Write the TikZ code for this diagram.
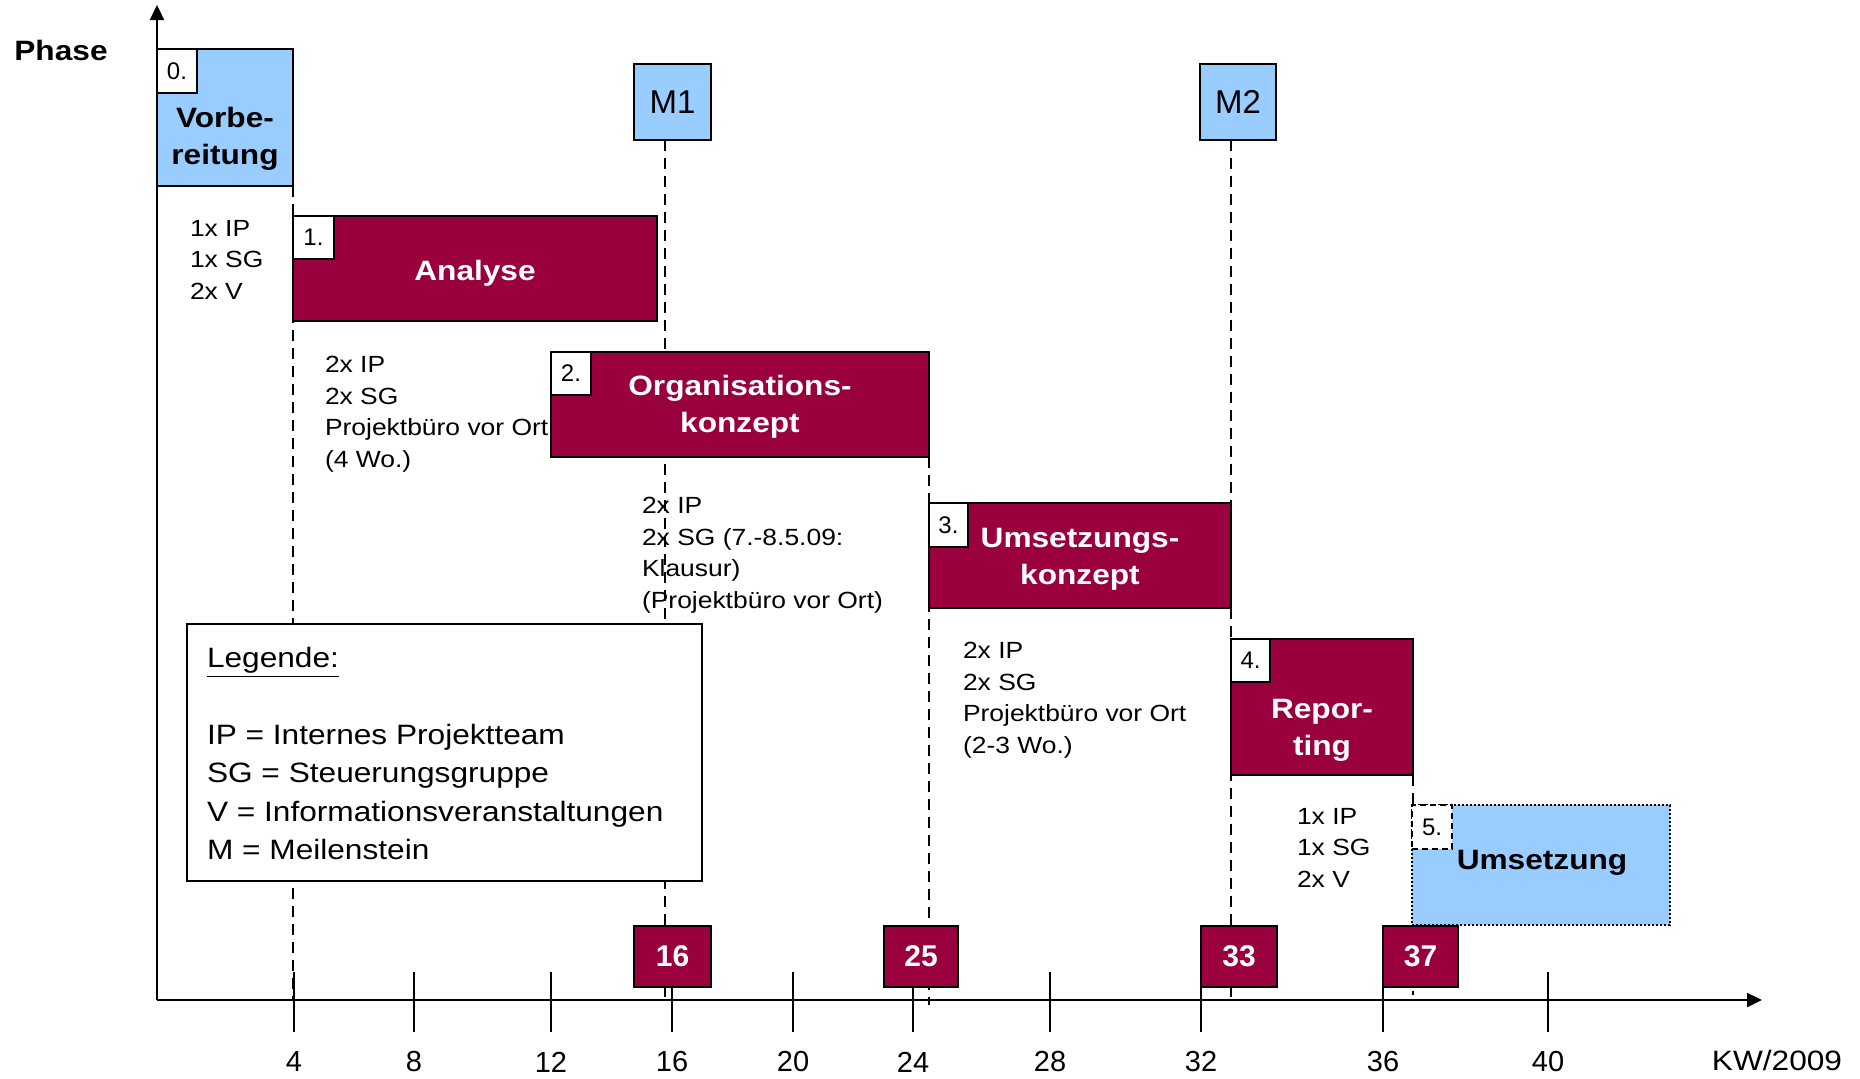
\documentclass[tikz,border=0pt]{standalone}
\usepackage{fontspec}
\setmainfont[FakeStretch=1.13]{Liberation Sans}
\newfontfamily\nfont{Liberation Sans}
\usetikzlibrary{arrows.meta,fit,backgrounds}
\definecolor{burg}{RGB}{153,0,61}
\definecolor{lblue}{RGB}{153,204,255}
\begin{document}
\begin{tikzpicture}[x=0.5pt,y=-0.5pt,
  every node/.style={inner sep=0pt,outer sep=0pt},
  axis/.style={line width=1.2pt,-{Triangle[length=7.5pt,width=7pt]}},
  tickline/.style={line width=1pt},
  guide/.style={line width=1pt,dash pattern=on 5.5pt off 3.5pt},
  redbox/.style={draw=black,line width=1.3pt,fill=burg},
  bluebox/.style={draw=black,line width=1.3pt,fill=lblue},
  numbox/.style={draw=black,line width=1.3pt,fill=white},
  numtxt/.style={font=\nfont\fontsize{12}{14}\selectfont},
  title/.style={align=center,font=\bfseries\fontsize{14}{18.5}\selectfont},
  small/.style={align=left,anchor=north west,font=\fontsize{11.7}{15.9}\selectfont},
  ticklbl/.style={font=\nfont\fontsize{14.5}{16}\selectfont},
  mstxt/.style={text=white,font=\nfont\bfseries\fontsize{15}{17}\selectfont},
  mtxt/.style={font=\nfont\fontsize{16.5}{18}\selectfont}
]
\useasboundingbox (0,0) rectangle (1860,1078);

% phases
\node[bluebox,fit={(157,49)(293,186)}] (p0) {};
\node[numbox,fit={(157,49)(197,93)}] (n0) {};
\node[numtxt] (n0t) at (n0.center) {0.};
\node[title] (t0) at (225,139) {Vorbe-\\reitung};

\node[redbox,fit={(293,216)(657,321)}] (p1) {};
\node[numbox,fit={(293,216)(334,259)}] (n1) {};
\node[numtxt] (n1t) at (n1.center) {1.};
\node[title,text=white] (t1) at (475,273) {Analyse};

\node[redbox,fit={(551,352)(929,457)}] (p2) {};
\node[numbox,fit={(551,352)(591,395)}] (n2) {};
\node[numtxt] (n2t) at (n2.center) {2.};
\node[title,text=white] (t2) at (740,407) {Organisations-\\konzept};

\node[redbox,fit={(929,503)(1231,608)}] (p3) {};
\node[numbox,fit={(929,503)(968,547)}] (n3) {};
\node[numtxt] (n3t) at (n3.center) {3.};
\node[title,text=white] (t3) at (1080,559) {Umsetzungs-\\konzept};

\node[redbox,fit={(1231,639)(1413,775)}] (p4) {};
\node[numbox,fit={(1231,639)(1270,682)}] (n4) {};
\node[numtxt] (n4t) at (n4.center) {4.};
\node[title,text=white] (t4) at (1322,730) {Repor-\\ting};

\node[fill=lblue,draw=black,line width=1pt,dash pattern=on 1pt off 1pt,fit={(1412,805)(1670,925)}] (p5) {};
\node[numbox,dash pattern=on 3pt off 2pt,fit={(1412,805)(1452,849)}] (n5) {};
\node[numtxt] (n5t) at (n5.center) {5.};
\node[title] (t5) at (1542,863) {Umsetzung};

% milestones
\node[bluebox,fit={(634,64)(711,140)}] (m1) {};
\node[mtxt] (m1t) at (m1.center) {M1};
\node[bluebox,fit={(1200,64)(1276,140)}] (m2) {};
\node[mtxt] (m2t) at (m2.center) {M2};

\node[redbox,fit={(634,926)(711,987)}] (w16) {};
\node[mstxt] (w16t) at (w16.center) {16};
\node[redbox,fit={(884,926)(958,987)}] (w25) {};
\node[mstxt] (w25t) at (w25.center) {25};
\node[redbox,fit={(1201,926)(1277,987)}] (w33) {};
\node[mstxt] (w33t) at (w33.center) {33};
\node[redbox,fit={(1383,926)(1458,987)}] (w37) {};
\node[mstxt] (w37t) at (w37.center) {37};

% legend
\node[draw=black,line width=1.3pt,fill=white,fit={(187,624)(702,881)}] (leg) {};
\node[anchor=north west,align=left,font=\fontsize{14}{19.25}\selectfont] (legtxt) at (207,647)
  {\underline{Legende:}\\[19.25pt]IP = Internes Projektteam\\SG = Steuerungsgruppe\\V = Informationsveranstaltungen\\M = Meilenstein};

% resource texts
\node[small] (s0) at (190,220) {1x IP\\1x SG\\2x V};
\node[small] (s1) at (325,356) {2x IP\\2x SG\\Projektbüro vor Ort\\(4 Wo.)};
\node[small] (s2) at (642,497) {2x IP\\2x SG (7.-8.5.09:\\Klausur)\\(Projektbüro vor Ort)};
\node[small] (s3) at (963,642) {2x IP\\2x SG\\Projektbüro vor Ort\\(2-3 Wo.)};
\node[small] (s4) at (1297,808) {1x IP\\1x SG\\2x V};

\node[font=\bfseries\fontsize{14}{16}\selectfont] (phase) at (61,50) {Phase};
\node[font=\fontsize{14}{16}\selectfont] (kw) at (1777,1060) {KW/2009};

\foreach \x/\l in {294/4,414/8,551/12,672/16,793/20,913/24,1050/28,1201/32,1383/36,1548/40}
  {\node[ticklbl] (k\l) at (\x,1062) {\l};}

\begin{scope}[on background layer]
  \coordinate (O) at (157,1000);
  \coordinate (ytip) at (157,5);
  \coordinate (xtip) at (1762,1000);
  \draw[guide] (p0.south east) -- (293,1000);
  \draw[guide] (665,140) -- (665,1000);
  \draw[guide] (p2.south east) -- (929,1005);
  \draw[guide] (1231,140) -- (1231,1002);
  \draw[guide] (p4.south east) -- (1413,995);
  \foreach \x in {294,414,551,672,793,913,1050,1201,1383,1548}
    {\draw[tickline] (\x,972) -- (\x,1032);}
  \draw[axis] (O) -- (ytip);
  \draw[axis] (O) -- (xtip);
\end{scope}
\end{tikzpicture}
\end{document}
